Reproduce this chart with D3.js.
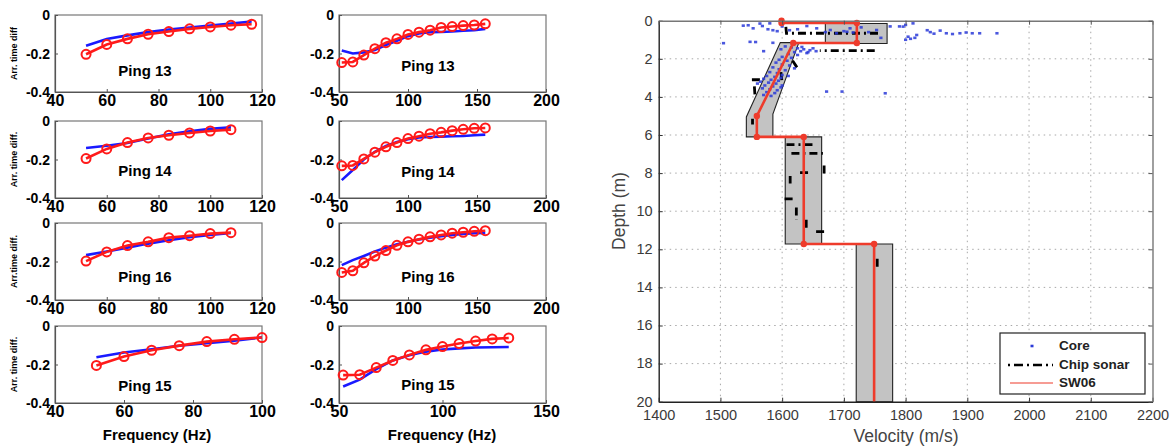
<!DOCTYPE html>
<html><head><meta charset="utf-8">
<script src="https://cdn.jsdelivr.net/npm/d3@7"></script>
<style>body{margin:0;background:#fff}svg{display:block}</style>
</head><body><svg id="c" width="1174" height="447"></svg>
<script>
// ---------------- data: arrival-time-difference panels ----------------
const pingNames = ["Ping 13", "Ping 14", "Ping 16", "Ping 15"];
const yAxisLabels = ["Arr. time diff", "Arr. time diff.", "Arr.time diff.", "Arr. time diff."];
const yTicksSmall = [0, -0.2, -0.4];
const xTicksLeft = [40, 60, 80, 100, 120];
const xTicksLeftLast = [40, 60, 80, 100];
const xTicksRight = [50, 100, 150, 200];
const xTicksRightLast = [50, 100, 150];

const freq52to116 = [52, 60, 68, 76, 84, 92, 100, 108, 116];
const freq52to108 = [52, 60, 68, 76, 84, 92, 100, 108];
const freq52to100 = [52, 60, 68, 76, 84, 92, 100];
const freq52to156 = [52, 60, 68, 76, 84, 92, 100, 108, 116, 124, 132, 140, 148, 156];
const freq52to132 = [52, 60, 68, 76, 84, 92, 100, 108, 116, 124, 132];

const p13L_red  = [-0.204, -0.153, -0.124, -0.100, -0.086, -0.072, -0.062, -0.053, -0.048];
const p13L_blue = [-0.160, -0.125, -0.106, -0.089, -0.075, -0.065, -0.055, -0.045, -0.034];
const p14L_red  = [-0.195, -0.145, -0.112, -0.088, -0.074, -0.062, -0.052, -0.045];
const p14L_blue = [-0.140, -0.129, -0.114, -0.091, -0.069, -0.053, -0.041, -0.033];
const p16L_red  = [-0.198, -0.150, -0.117, -0.098, -0.076, -0.066, -0.055, -0.050];
const p16L_blue = [-0.167, -0.148, -0.128, -0.107, -0.090, -0.074, -0.062, -0.052];
const p15L_red  = [-0.205, -0.159, -0.126, -0.102, -0.081, -0.069, -0.060];
const p15L_blue = [-0.162, -0.138, -0.121, -0.103, -0.090, -0.076, -0.059];

const p13R_red  = [-0.247, -0.244, -0.208, -0.175, -0.144, -0.124, -0.101, -0.089, -0.079, -0.065, -0.060, -0.055, -0.052, -0.046];
const p13R_blue = [-0.185, -0.200, -0.194, -0.182, -0.156, -0.134, -0.110, -0.096, -0.089, -0.088, -0.086, -0.082, -0.079, -0.072];
const p14R_red  = [-0.233, -0.231, -0.197, -0.162, -0.134, -0.112, -0.091, -0.079, -0.066, -0.059, -0.050, -0.043, -0.038, -0.036];
const p14R_blue = [-0.307, -0.255, -0.200, -0.160, -0.129, -0.109, -0.095, -0.086, -0.083, -0.081, -0.079, -0.078, -0.074, -0.071];
const p16R_red  = [-0.257, -0.248, -0.207, -0.172, -0.143, -0.116, -0.098, -0.084, -0.072, -0.062, -0.053, -0.048, -0.043, -0.040];
const p16R_blue = [-0.219, -0.193, -0.171, -0.148, -0.128, -0.110, -0.097, -0.086, -0.076, -0.069, -0.062, -0.057, -0.053, -0.052];
const p15R_red  = [-0.255, -0.253, -0.216, -0.179, -0.150, -0.124, -0.107, -0.091, -0.078, -0.067, -0.062];
const p15R_blue = [-0.314, -0.279, -0.224, -0.179, -0.152, -0.133, -0.122, -0.116, -0.112, -0.110, -0.109];

// ---------------- data: velocity profile ----------------
const velTicks = [1400, 1500, 1600, 1700, 1800, 1900, 2000, 2100, 2200];
const depthTicks = [0, 2, 4, 6, 8, 10, 12, 14, 16, 18, 20];
// uncertainty bands [velocity, depth]
const bandTop = [[1670, 0.15], [1770, 0.15], [1770, 1.2], [1670, 1.2]];
const bandGradient = [[1597, 1.15], [1627, 1.15], [1585, 4.9], [1585, 6.1], [1542, 6.1], [1542, 5.05]];
const bandMiddle = [[1605, 6.1], [1664, 6.1], [1664, 11.72], [1605, 11.72]];
const bandBottom = [[1720, 11.72], [1779, 11.72], [1779, 20], [1720, 20]];
// SW06 profile [velocity, depth]
const sw06 = [[1599, 0], [1599, 0.12], [1721, 0.12], [1721, 1.17], [1618, 1.17], [1559, 5.0], [1559, 6.1],
  [1635, 6.1], [1635, 11.72], [1749, 11.72], [1749, 20]];
// chip sonar profile [velocity, depth]; null = gap in the trace
const chipSonar = [
  [1606, 0.32], [1607, 0.66], [1753, 0.66], [1753, 0.8], null,
  [1750, 1.57], [1661, 1.57], null,
  [1617, 2.1], [1624, 2.45], null,
  [1598, 2.7], [1600, 3.3], null,
  [1551, 3.1], [1570, 3.1], null,
  [1555, 3.45], [1556, 3.95], null,
  [1552, 5.15], [1552, 5.45], null,
  [1607, 6.5], [1653, 6.5], null,
  [1615, 6.96], [1666, 6.96], null,
  [1668, 7.6], [1668, 8.05], null,
  [1629, 7.98], [1646, 7.98], null,
  [1613, 8.15], [1613, 8.55], null,
  [1604, 9.35], [1619, 9.35], null,
  [1623, 9.8], [1623, 10.45], null,
  [1639, 10.45], [1639, 11.0], null,
  [1655, 11.07], [1671, 11.07], null,
  [1754, 12.5], [1754, 12.95]];
// core measurements [velocity, depth]
const corePoints = [
  [1505, 1.18], [1548, 1.11], [1557, 1.12], [1585, 1.16], [1537, 0.26], [1545, 0.24], [1553, 0.40], [1564, 0.15],
  [1568, 0.28], [1577, 0.45], [1580, 0.14], [1585, 0.50], [1592, 0.55], [1600, 0.30], [1612, 0.50], [1625, 0.45],
  [1640, 0.28], [1656, 0.40], [1670, 0.60], [1678, 0.49], [1688, 0.66], [1700, 0.55], [1705, 0.58], [1710, 0.40],
  [1715, 0.62], [1728, 0.35], [1740, 0.60], [1753, 0.49], [1760, 0.90], [1775, 0.30], [1790, 0.30], [1796, 0.31],
  [1800, 0.22], [1804, 0.84], [1812, 0.14], [1818, 0.75], [1800, 1.00], [1808, 0.95], [1815, 0.90], [1835, 0.50],
  [1840, 0.60], [1846, 0.68], [1856, 0.52], [1866, 0.66], [1876, 0.70], [1888, 0.66], [1898, 0.62], [1908, 0.66],
  [1920, 0.66], [1948, 0.66],
  [1605, 1.35], [1615, 1.40], [1625, 1.45], [1635, 1.50], [1645, 1.55], [1630, 1.60], [1620, 1.65], [1640, 1.70],
  [1610, 1.75], [1625, 1.80], [1600, 1.90], [1615, 1.95], [1595, 2.05], [1608, 2.10], [1590, 2.20], [1600, 2.30],
  [1612, 2.35], [1585, 2.45], [1595, 2.55], [1605, 2.60], [1580, 2.70], [1592, 2.75], [1600, 2.85], [1575, 2.90],
  [1588, 2.95], [1598, 3.00], [1570, 3.05], [1582, 3.10], [1594, 3.15], [1565, 3.20], [1578, 3.25], [1590, 3.30],
  [1572, 3.40], [1585, 3.45], [1598, 3.50], [1568, 3.55], [1580, 3.60], [1592, 3.65], [1575, 3.75], [1588, 3.80],
  [1570, 3.90], [1582, 3.95], [1600, 3.40], [1560, 3.30], [1610, 2.90], [1620, 2.50], [1650, 1.45], [1655, 1.60],
  [1598, 1.50], [1570, 1.60], [1632, 1.38], [1642, 1.65],
  [1672, 3.72], [1697, 3.72], [1767, 3.81]];
const legendLabels = ["Core", "Chip sonar", "SW06"];

// ---------------- drawing ----------------
const svg = d3.select("#c");
const FONT = "'Liberation Sans', Arial, sans-serif";
const RED = "#ff1a1a", BLUE = "#1a1aff";

const panels = [
  {col: 0, row: 0, f: freq52to116, red: p13L_red, blue: p13L_blue, xd: [40, 120], xt: xTicksLeft},
  {col: 0, row: 1, f: freq52to108, red: p14L_red, blue: p14L_blue, xd: [40, 120], xt: xTicksLeft},
  {col: 0, row: 2, f: freq52to108, red: p16L_red, blue: p16L_blue, xd: [40, 120], xt: xTicksLeft},
  {col: 0, row: 3, f: freq52to100, red: p15L_red, blue: p15L_blue, xd: [40, 100], xt: xTicksLeftLast},
  {col: 1, row: 0, f: freq52to156, red: p13R_red, blue: p13R_blue, xd: [50, 200], xt: xTicksRight},
  {col: 1, row: 1, f: freq52to156, red: p14R_red, blue: p14R_blue, xd: [50, 200], xt: xTicksRight},
  {col: 1, row: 2, f: freq52to156, red: p16R_red, blue: p16R_blue, xd: [50, 200], xt: xTicksRight},
  {col: 1, row: 3, f: freq52to132, red: p15R_red, blue: p15R_blue, xd: [50, 150], xt: xTicksRightLast}
];
const colX = [55, 339], rowY = [15, 121, 223, 326], PW = 207, PH = 77;
const titleDy = [[57, 51, 55, 61], [52, 52, 55, 60]];
const titleX = [145, 428];
const fmtY = d => d === 0 ? "0" : (d < 0 ? "-" : "") + Math.abs(d).toFixed(1);

panels.forEach(p => {
  const x0 = colX[p.col], y0 = rowY[p.row];
  const x = d3.scaleLinear().domain(p.xd).range([x0, x0 + PW]);
  const y = d3.scaleLinear().domain([-0.4, 0]).range([y0 + PH, y0]);
  const g = svg.append("g");
  g.append("rect").attr("x", x0).attr("y", y0).attr("width", PW).attr("height", PH)
    .attr("fill", "#fff").attr("stroke", "#777").attr("stroke-width", 1.2);
  const ax = g.append("g").attr("transform", `translate(0,${y0 + PH})`)
    .call(d3.axisBottom(x).tickValues(p.xt).tickSizeInner(-3).tickSizeOuter(0).tickPadding(3).tickFormat(d3.format("d")));
  const ay = g.append("g").attr("transform", `translate(${x0},0)`)
    .call(d3.axisLeft(y).tickValues(yTicksSmall).tickSizeInner(-3).tickSizeOuter(0).tickPadding(5).tickFormat(fmtY));
  [ax, ay].forEach(a => {
    a.select(".domain").attr("stroke", "#555").attr("stroke-width", 1.2);
    a.selectAll(".tick line").attr("stroke", "#555");
    a.selectAll("text").attr("fill", "#000").attr("font-family", FONT).attr("font-weight", "bold");
  });
  ax.selectAll("text").attr("font-size", 16);
  ay.selectAll("text").attr("font-size", 14).attr("dy", "0.33em");
  const line = d3.line().x((d, i) => x(p.f[i])).y(d => y(d));
  g.append("path").attr("d", line(p.blue)).attr("fill", "none").attr("stroke", BLUE).attr("stroke-width", 2.6);
  g.append("path").attr("d", line(p.red)).attr("fill", "none").attr("stroke", RED).attr("stroke-width", 2.6);
  g.selectAll("circle.m").data(p.red).enter().append("circle")
    .attr("cx", (d, i) => x(p.f[i])).attr("cy", d => y(d)).attr("r", 4.5)
    .attr("fill", "none").attr("stroke", RED).attr("stroke-width", 2);
  g.append("text").attr("x", titleX[p.col]).attr("y", y0 + titleDy[p.col][p.row])
    .attr("text-anchor", "middle").attr("dominant-baseline", "middle")
    .attr("font-family", FONT).attr("font-weight", "bold").attr("font-size", 15).text(pingNames[p.row]);
  if (p.col === 0) {
    g.append("text").attr("transform", `translate(15,${y0 + PH / 2}) rotate(-90)`)
      .attr("text-anchor", "middle").attr("dominant-baseline", "middle")
      .attr("font-family", FONT).attr("font-weight", "bold").attr("font-size", 9).text(yAxisLabels[p.row]);
  }
});
[157, 442].forEach(cx => {
  svg.append("text").attr("x", cx).attr("y", 436).attr("text-anchor", "middle").attr("dominant-baseline", "middle")
    .attr("font-family", FONT).attr("font-weight", "bold").attr("font-size", 15).text("Frequency (Hz)");
});

// ---------- velocity profile ----------
const vx = d3.scaleLinear().domain([1400, 2200]).range([658.7, 1152.5]);
const vy = d3.scaleLinear().domain([0, 20]).range([20.7, 401.7]);
const G = svg.append("g");
G.append("rect").attr("x", vx(1400)).attr("y", vy(0)).attr("width", vx(2200) - vx(1400)).attr("height", vy(20) - vy(0))
  .attr("fill", "#fff");
// grid
G.selectAll("line.gx").data(velTicks.slice(1, -1)).enter().append("line")
  .attr("x1", d => vx(d)).attr("x2", d => vx(d)).attr("y1", vy(0)).attr("y2", vy(20))
  .attr("stroke", "#a8a8a8").attr("stroke-width", 1).attr("stroke-dasharray", "1.5,4");
G.selectAll("line.gy").data(depthTicks.slice(1, -1)).enter().append("line")
  .attr("y1", d => vy(d)).attr("y2", d => vy(d)).attr("x1", vx(1400)).attr("x2", vx(2200))
  .attr("stroke", "#a8a8a8").attr("stroke-width", 1).attr("stroke-dasharray", "1.5,4");
// bands
const poly = d3.line().x(d => vx(d[0])).y(d => vy(d[1]));
[bandTop, bandGradient, bandMiddle, bandBottom].forEach(b => {
  G.append("path").attr("d", poly(b) + "Z").attr("fill", "#c3c3c3").attr("stroke", "#222").attr("stroke-width", 1.1);
});
// chip sonar
const chipLine = d3.line().defined(d => d !== null).x(d => vx(d[0])).y(d => vy(d[1]));
G.append("path").attr("d", chipLine(chipSonar)).attr("fill", "none").attr("stroke", "#000")
  .attr("stroke-width", 2.8).attr("stroke-dasharray", "8,4,2,4");
// core
G.selectAll("rect.core").data(corePoints).enter().append("rect")
  .attr("x", d => vx(d[0]) - 1.6).attr("y", d => vy(d[1]) - 1.3).attr("width", 3.2).attr("height", 2.6)
  .attr("fill", "#2a3ad8").attr("opacity", 0.85);
// SW06
G.append("path").attr("d", poly(sw06)).attr("fill", "none").attr("stroke", "#ee3b2b").attr("stroke-width", 2.6);
G.selectAll("circle.sw").data(sw06.slice(0, -1)).enter().append("circle")
  .attr("cx", d => vx(d[0])).attr("cy", d => vy(d[1])).attr("r", 3.2).attr("fill", "#ee3b2b");
// axes
const vax = G.append("g").attr("transform", `translate(0,${vy(20)})`)
  .call(d3.axisBottom(vx).tickValues(velTicks).tickSizeInner(-4).tickSizeOuter(0).tickPadding(8).tickFormat(d3.format("d")));
const vay = G.append("g").attr("transform", `translate(${vx(1400)},0)`)
  .call(d3.axisLeft(vy).tickValues(depthTicks).tickSizeInner(-4).tickSizeOuter(0).tickPadding(6).tickFormat(d3.format("d")));
const vtop = G.append("g").attr("transform", `translate(0,${vy(0)})`)
  .call(d3.axisTop(vx).tickValues(velTicks).tickSizeInner(-4).tickSizeOuter(0).tickFormat(""));
const vright = G.append("g").attr("transform", `translate(${vx(2200)},0)`)
  .call(d3.axisRight(vy).tickValues(depthTicks).tickSizeInner(-4).tickSizeOuter(0).tickFormat(""));
[vax, vay].forEach(a => {
  a.select(".domain").attr("stroke", "#222").attr("stroke-width", 1.4);
  a.selectAll(".tick line").attr("stroke", "#333");
  a.selectAll("text").attr("fill", "#3a3a3a").attr("font-family", FONT).attr("font-size", 14.5);
});
vay.selectAll("text").attr("dy", "0.3em");
[vtop, vright].forEach(a => {
  a.select(".domain").attr("stroke", "#777").attr("stroke-width", 1.4);
  a.selectAll(".tick line").attr("stroke", "#555");
});
G.append("text").attr("x", 906).attr("y", 437).attr("text-anchor", "middle").attr("dominant-baseline", "middle")
  .attr("font-family", FONT).attr("font-size", 17.5).attr("fill", "#444").text("Velocity (m/s)");
G.append("text").attr("transform", "translate(620,211) rotate(-90)").attr("text-anchor", "middle")
  .attr("dominant-baseline", "middle").attr("font-family", FONT).attr("font-size", 17.5).attr("fill", "#444").text("Depth (m)");
// legend
const L = G.append("g");
L.append("rect").attr("x", 1000).attr("y", 333).attr("width", 145).attr("height", 61)
  .attr("fill", "#fff").attr("stroke", "#222").attr("stroke-width", 1.2);
const ly = [346, 365, 383];
L.append("rect").attr("x", 1030.5).attr("y", ly[0] - 1.3).attr("width", 3).attr("height", 2.6).attr("fill", "#2a3ad8");
L.append("line").attr("x1", 1008).attr("x2", 1053).attr("y1", ly[1]).attr("y2", ly[1])
  .attr("stroke", "#000").attr("stroke-width", 2.4).attr("stroke-dasharray", "2,4,9,4");
L.append("line").attr("x1", 1010).attr("x2", 1053).attr("y1", ly[2]).attr("y2", ly[2])
  .attr("stroke", "#ee3b2b").attr("stroke-width", 1.2);
legendLabels.forEach((t, i) => {
  L.append("text").attr("x", 1059).attr("y", ly[i]).attr("dominant-baseline", "middle")
    .attr("font-family", FONT).attr("font-weight", "bold").attr("font-size", 13.5).attr("fill", "#222").text(t);
});
</script></body></html>
